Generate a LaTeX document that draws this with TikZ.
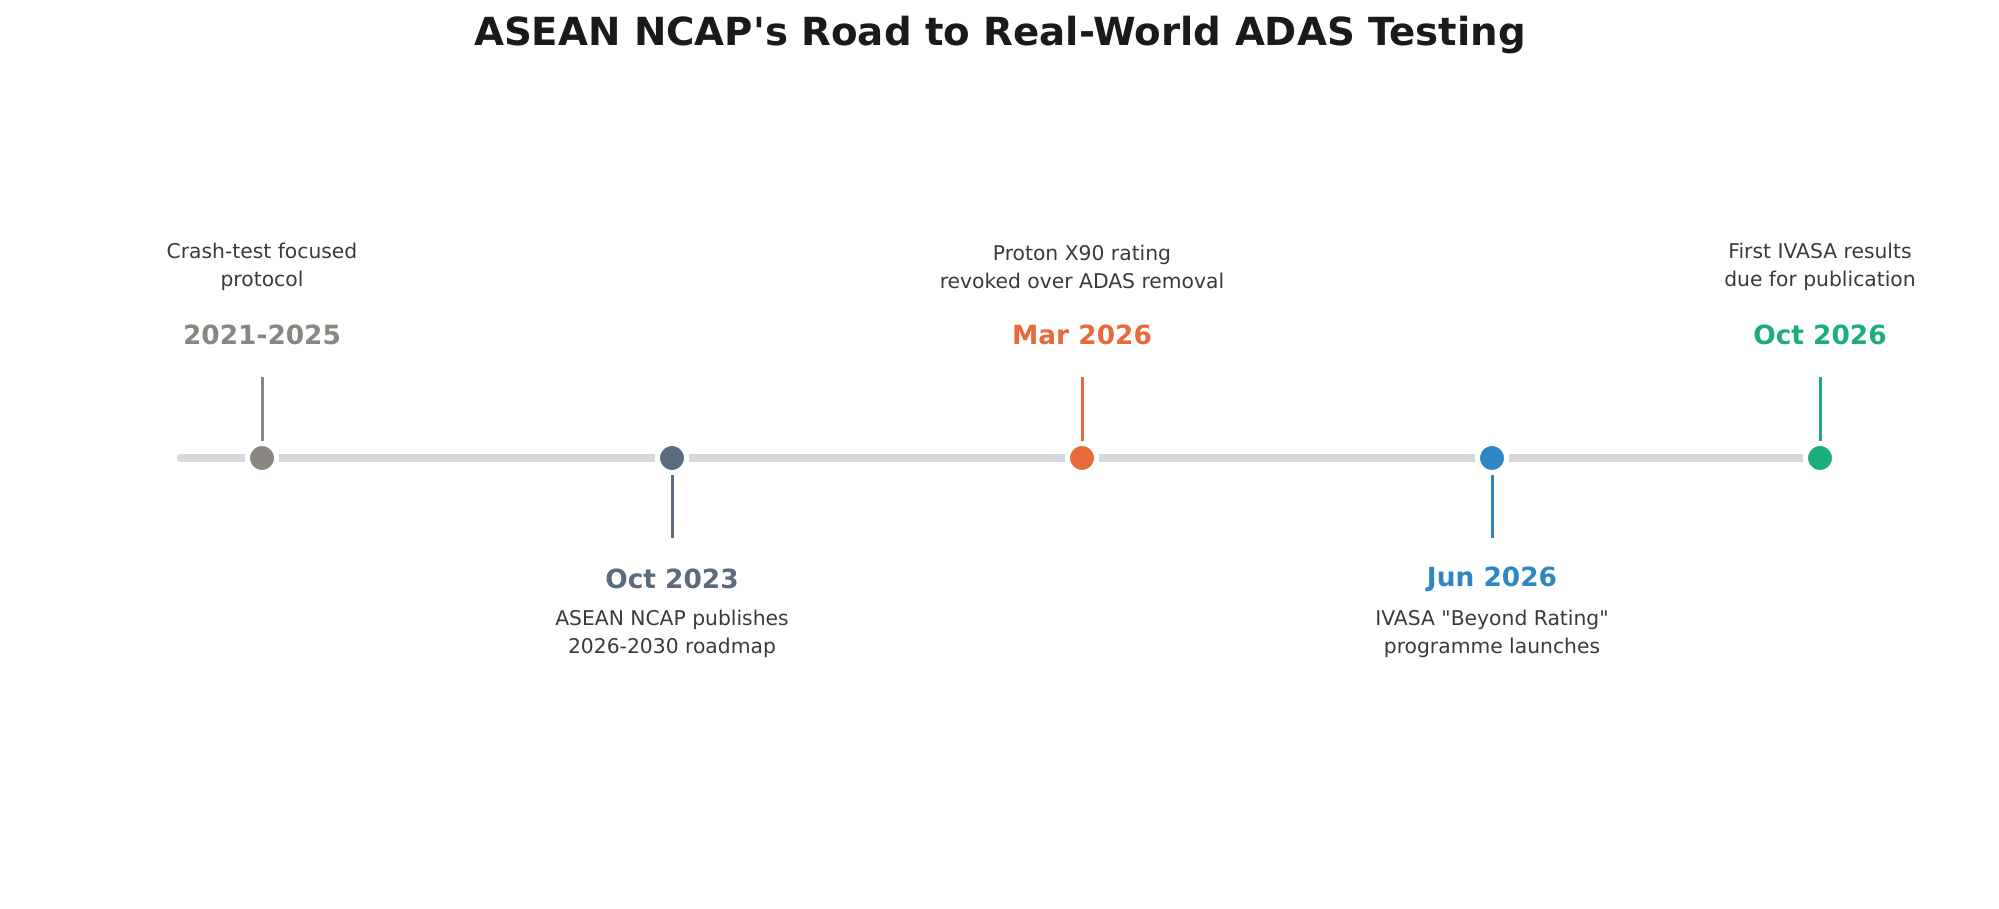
\documentclass[tikz,border=0pt]{standalone}
\usepackage{fontspec}
\setmainfont{DejaVu Sans}[Ligatures=TeXOff]
\usepackage{xcolor}
\definecolor{railgray}{HTML}{D5D9DC}
\definecolor{pastgray}{HTML}{8A8680}
\definecolor{slate}{HTML}{5A6B7E}
\definecolor{rustorange}{HTML}{E8693A}
\definecolor{seablue}{HTML}{2E86C3}
\definecolor{jade}{HTML}{1BAD7B}
\definecolor{bodytext}{HTML}{3A3A3A}
\definecolor{titletext}{HTML}{1A1A1A}
\tikzset{
	dot/.style={circle, fill=#1, draw=white, line width=2.5pt,
			minimum size=14.5pt, inner sep=0pt},
	stem/.style={draw=#1, line width=1.5pt},
	datelbl/.style={text=#1, inner sep=0pt,
			font=\fontsize{13.2}{15}\selectfont\bfseries},
	note/.style={text=bodytext, align=center, inner sep=0pt,
			font=\fontsize{10.15}{14}\selectfont}
}

\begin{document}
\begin{tikzpicture}[x=0.5pt, y=-0.5pt]
    \useasboundingbox (0,0) rectangle (1999,909);

    \node[text=titletext, font=\fontsize{19.35}{23}\selectfont\bfseries] (title) at (1000,35)
        {ASEAN NCAP's Road to Real-World ADAS Testing};

    % the rail
    \coordinate (railL) at (181,458);
    \coordinate (railR) at (1820,458);
    \draw[railgray, line width=4.25pt, line cap=round] (railL) -- (railR);

    \node[dot=pastgray]   (d1) at (262,458)  {};
    \node[dot=slate]      (d2) at (672,458)  {};
    \node[dot=rustorange] (d3) at (1082,458) {};
    \node[dot=seablue]    (d4) at (1492,458) {};
    \node[dot=jade]       (d5) at (1820,458) {};

    % stems end here
    \coordinate (s1) at (262,377);
    \coordinate (s2) at (672,538);
    \coordinate (s3) at (1082,377);
    \coordinate (s4) at (1492,538);
    \coordinate (s5) at (1820,377);

    \draw[stem=pastgray]   (d1) -- (s1);
    \draw[stem=slate]      (d2) -- (s2);
    \draw[stem=rustorange] (d3) -- (s3);
    \draw[stem=seablue]    (d4) -- (s4);
    \draw[stem=jade]       (d5) -- (s5);

    \node[datelbl=pastgray]   (y1) at (262,335)  {2021-2025};
    \node[datelbl=slate]      (y2) at (672,579)  {Oct 2023};
    \node[datelbl=rustorange] (y3) at (1082,335) {Mar 2026};
    \node[datelbl=seablue]    (y4) at (1492,579) {Jun 2026};
    \node[datelbl=jade]       (y5) at (1820,335) {Oct 2026};

    \node[note] (n1) at (262,267)  {Crash-test focused\\protocol};
    \node[note] (n2) at (672,634)  {ASEAN NCAP publishes\\2026-2030 roadmap};
    \node[note] (n3) at (1082,267) {Proton X90 rating\\revoked over ADAS removal};
    \node[note] (n4) at (1492,634) {IVASA "Beyond Rating"\\programme launches};
    \node[note] (n5) at (1820,267) {First IVASA results\\due for publication};
\end{tikzpicture}
\end{document}
